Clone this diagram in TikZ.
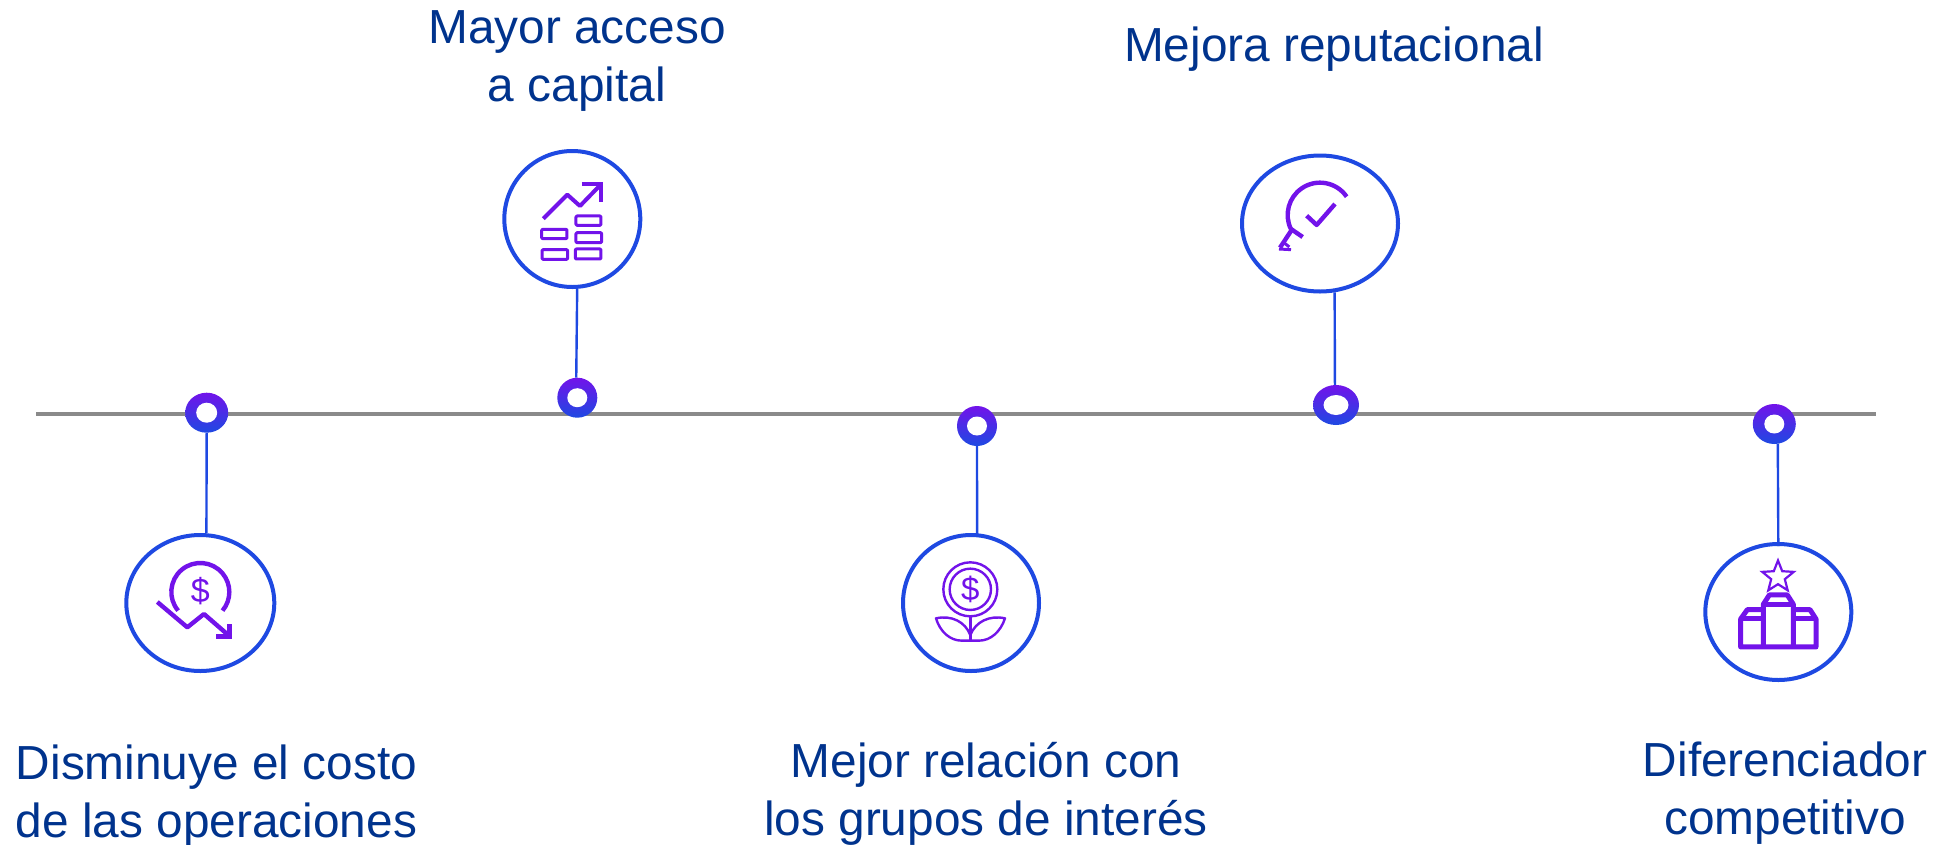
\documentclass[tikz,border=0pt]{standalone}
\usepackage{fontspec}
\setmainfont{Liberation Sans}
\usetikzlibrary{shapes.geometric}
\definecolor{lineblue}{HTML}{1E49E2}
\definecolor{iconpurple}{HTML}{7213EA}
\definecolor{textblue}{HTML}{00338D}
\definecolor{axisgray}{HTML}{8A8A8A}
\tikzset{
  dotnode/.style={ellipse,inner sep=0pt,top color=iconpurple,bottom color=lineblue,draw=none},
  holenode/.style={ellipse,inner sep=0pt,fill=white,draw=none},
  ringnode/.style={ellipse,inner sep=0pt,draw=lineblue,line width=4pt,fill=white},
  conn/.style={draw=lineblue,line width=2.4pt},
  iconthick/.style={draw=iconpurple,line width=4.4pt,line join=round},
  iconmid/.style={draw=iconpurple,line width=3pt,line join=round},
  iconthin/.style={draw=iconpurple,line width=2.4pt,line join=round},
  iconheavy/.style={draw=iconpurple,line width=5pt,line join=round},
  iconscale/.style={x=0.3333pt,y=-0.3333pt},
  glyph/.style={text=iconpurple,inner sep=0pt},
  label/.style={text=textblue,font=\fontsize{47.8}{58}\selectfont,align=center,inner sep=0pt}
}
\begin{document}
\begin{tikzpicture}[x=1pt,y=-1pt]
\useasboundingbox (0,0) rectangle (1939,844);
\coordinate (axL) at (36,413.5);
\coordinate (axR) at (1876,413.5);
\draw[axisgray,line width=4pt] (axL) -- (axR);
% rings
\node[ringnode,minimum width=148pt,minimum height=136pt] (c1) at (200.3,603) {};
\node[ringnode,minimum width=136pt,minimum height=136pt] (c2) at (572.3,219) {};
\node[ringnode,minimum width=156pt,minimum height=136pt] (c3) at (1320,223.5) {};
\node[ringnode,minimum width=136pt,minimum height=136pt] (c4) at (971,603) {};
\node[ringnode,minimum width=146pt,minimum height=136pt] (c5) at (1778.3,612) {};
% dots
\node[dotnode,minimum width=43pt,minimum height=40pt] (d1) at (206.7,412.7) {};
\node[dotnode,minimum width=40pt,minimum height=40pt] (d2) at (577.3,397.7) {};
\node[dotnode,minimum width=46pt,minimum height=40pt] (d3) at (1336,405) {};
\node[dotnode,minimum width=40pt,minimum height=40pt] (d4) at (977,426) {};
\node[dotnode,minimum width=43pt,minimum height=40pt] (d5) at (1774.3,424) {};
\node[holenode,minimum width=21pt,minimum height=20pt] (h1) at (d1) {};
\node[holenode,minimum width=20pt,minimum height=19pt] (h2) at (d2) {};
\node[holenode,minimum width=25pt,minimum height=20pt] (h3) at (d3) {};
\node[holenode,minimum width=20pt,minimum height=19pt] (h4) at (d4) {};
\node[holenode,minimum width=20pt,minimum height=19pt] (h5) at (d5) {};
% connectors
\draw[conn] (d1.south) -- (c1.85.6);
\draw[conn] (d2.93) -- (c2.-86.7);
\draw[conn] (d3.93) -- (c3.-78.8);
\draw[conn,shorten >=-3pt] (d4.south) -- (c4.85);
\draw[conn,shorten >=-4pt] (d5.-80) -- (c5.north);
% labels
\node[label] (t1) at (216.5,796) {Disminuye el costo\\de las operaciones};
\node[label] (t2) at (577,61.5) {Mayor acceso\\a capital};
\node[label] (t3) at (1334,49) {Mejora reputacional};
\node[label] (t4) at (986,794) {Mejor relación con\\los grupos de interés};
\node[label] (t5) at (1785,793.5) {Diferenciador\\competitivo};
% icon 1
\begin{scope}[shift={(110,380)},iconscale]
 \draw[iconthick] (271,636) ++(140:87) arc[start angle=140,end angle=400,radius=87];
 \draw[iconthick] (142,666) -- (232,742) -- (282,702) -- (358,768);
 \draw[iconthick,line join=miter] (358,733) -- (358,770) -- (318,770);
 \node[glyph,font=\fontsize{34}{34}\selectfont] (g1) at (271,634) {\$};
\end{scope}
% icon 2
\begin{scope}[shift={(490,140)},iconscale]
 \draw[iconthick,line width=4pt] (160,236) -- (232,164) -- (270,198) -- (332,134);
 \draw[iconthick,line width=4pt,line join=miter] (276,132) -- (334,132) -- (334,186);
 \draw[iconmid,rounded corners=1pt] (258,228) rectangle (333,256);
 \draw[iconmid,rounded corners=1pt] (258,278) rectangle (335,308);
 \draw[iconmid,rounded corners=1pt] (256,327) rectangle (333,357);
 \draw[iconmid,rounded corners=1pt] (155,268) rectangle (231,296);
 \draw[iconmid,rounded corners=1pt] (156,329) rectangle (233,358);
\end{scope}
% icon 3
\begin{scope}[shift={(1230,145)},iconscale]
 \draw[iconthick] (270,210) ++(-34.5:97) arc[start angle=-34.5,end angle=-205,radius=97];
 \draw[iconthick] (180,250) -- (218,276);
 \draw[iconthick] (185,255) -- (150,308);
 \draw[iconthick,line width=3pt] (147,312) -- (183,314);
 \draw[iconthick,line width=3pt] (163,294) -- (178,306);
 \draw[iconthick] (230,212) -- (260,240) -- (315,177);
\end{scope}
% icon 4
\begin{scope}[shift={(890,395)},iconscale]
 \draw[iconthin] (241,583) circle[radius=81];
 \draw[iconthin] (241,583) circle[radius=62];
 \node[glyph,font=\fontsize{33}{33}\selectfont] (g4) at (241,583) {\$};
 \draw[iconthin] (241,664) -- (241,737);
 \draw[iconthin] (241,720) .. controls (225,680) and (185,660) .. (138,670)
   .. controls (150,710) and (180,737) .. (215,737) -- (267,737)
   .. controls (302,737) and (332,710) .. (345,670)
   .. controls (298,660) and (257,680) .. (241,720);
\end{scope}
% icon 5
\begin{scope}[shift={(1690,395)},iconscale]
 \node[star,star points=5,star point ratio=2.3,draw=iconpurple,line width=2.2pt,inner sep=0pt,minimum size=33pt,line join=miter] (g5) at (264,546) {};
 \draw[iconheavy] (220,756) -- (220,628) -- (238,600) -- (292,600) -- (310,628) -- (310,756);
 \draw[iconheavy] (220,628) -- (310,628);
 \draw[iconheavy] (220,644) -- (172,644) -- (152,672) -- (152,756) -- (378,756) -- (378,672) -- (360,644) -- (310,644);
 \draw[iconheavy] (152,672) -- (220,672);
 \draw[iconheavy] (310,672) -- (378,672);
\end{scope}
\end{tikzpicture}
\end{document}
